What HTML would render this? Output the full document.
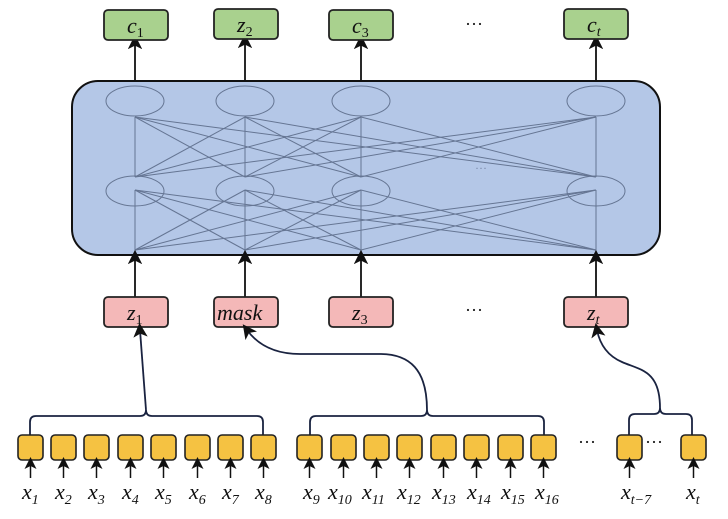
<!DOCTYPE html>
<html><head><meta charset="utf-8"><style>body{margin:0;background:#fff}svg{display:block}text{font-family:"Liberation Serif",serif;font-style:italic}</style></head><body>
<svg width="728" height="519" viewBox="0 0 728 519" xmlns="http://www.w3.org/2000/svg">
<defs><marker id="a" markerWidth="8" markerHeight="8" refX="4" refY="4" orient="auto"><path d="M0,0 L8,4 L0,8 L2,4 z" fill="#111"/></marker>
<marker id="b" markerWidth="6" markerHeight="6" refX="5" refY="3" orient="auto"><path d="M0,0 L6,3 L0,6 z" fill="#52607a"/></marker></defs>
<rect x="72" y="81" width="588" height="174" rx="26" fill="#b4c7e7" stroke="#111" stroke-width="2"/>
<g stroke="#5d6d8a" stroke-width="1" fill="none" opacity="0.9">
<g id="l1">
<line x1="135" y1="177" x2="135" y2="117"/><line x1="135" y1="177" x2="245" y2="117"/><line x1="135" y1="177" x2="361" y2="117"/><line x1="135" y1="177" x2="596" y2="117"/>
<line x1="245" y1="177" x2="135" y2="117"/><line x1="245" y1="177" x2="245" y2="117"/><line x1="245" y1="177" x2="361" y2="117"/><line x1="245" y1="177" x2="596" y2="117"/>
<line x1="361" y1="177" x2="135" y2="117"/><line x1="361" y1="177" x2="245" y2="117"/><line x1="361" y1="177" x2="361" y2="117"/><line x1="361" y1="177" x2="596" y2="117"/>
<line x1="596" y1="177" x2="135" y2="117"/><line x1="596" y1="177" x2="245" y2="117"/><line x1="596" y1="177" x2="361" y2="117"/><line x1="596" y1="177" x2="596" y2="117"/>
</g>
<use href="#l1" transform="translate(0,73)"/>
<ellipse cx="135" cy="101" rx="29" ry="15"/><ellipse cx="245" cy="101" rx="29" ry="15"/><ellipse cx="361" cy="101" rx="29" ry="15"/><ellipse cx="596" cy="101" rx="29" ry="15"/>
<ellipse cx="135" cy="191" rx="29" ry="15"/><ellipse cx="245" cy="191" rx="29" ry="15"/><ellipse cx="361" cy="191" rx="29" ry="15"/><ellipse cx="596" cy="191" rx="29" ry="15"/>
</g>
<text x="475" y="172" font-size="12" fill="#7a88a8" style="font-style:normal">···</text>
<g stroke="#111" stroke-width="1.8" fill="none">
<line x1="135" y1="81" x2="135" y2="42" marker-end="url(#a)"/><line x1="245" y1="81" x2="245" y2="41" marker-end="url(#a)"/><line x1="361" y1="81" x2="361" y2="42" marker-end="url(#a)"/><line x1="596" y1="81" x2="596" y2="42" marker-end="url(#a)"/>
<line x1="135" y1="297" x2="135" y2="257" marker-end="url(#a)"/><line x1="245" y1="297" x2="245" y2="257" marker-end="url(#a)"/><line x1="361" y1="297" x2="361" y2="257" marker-end="url(#a)"/><line x1="596" y1="297" x2="596" y2="257" marker-end="url(#a)"/>
</g>
<g stroke="#222" stroke-width="1.8" fill="#a9d18e">
<rect x="104" y="10" width="64" height="30" rx="4"/><rect x="214" y="9" width="64" height="30" rx="4"/><rect x="329" y="10" width="64" height="30" rx="4"/><rect x="564" y="9" width="64" height="30" rx="4"/>
</g>
<g stroke="#222" stroke-width="1.8" fill="#f4b8b8">
<rect x="104" y="297" width="64" height="30" rx="4"/><rect x="214" y="297" width="64" height="30" rx="4"/><rect x="329" y="297" width="64" height="30" rx="4"/><rect x="564" y="297" width="64" height="30" rx="4"/>
</g>
<g font-size="22" fill="#111">
<text x="127" y="33">c<tspan font-size="14" dy="4" style="font-style:normal">1</tspan></text>
<text x="237" y="32">z<tspan font-size="14" dy="4" style="font-style:normal">2</tspan></text>
<text x="352" y="33">c<tspan font-size="14" dy="4" style="font-style:normal">3</tspan></text>
<text x="587" y="32">c<tspan font-size="14" dy="4">t</tspan></text>
<text x="127" y="320">z<tspan font-size="14" dy="4" style="font-style:normal">1</tspan></text>
<text x="217" y="320">mask</text>
<text x="352" y="320">z<tspan font-size="14" dy="4" style="font-style:normal">3</tspan></text>
<text x="587" y="320">z<tspan font-size="14" dy="4">t</tspan></text>
<text x="465" y="30" style="font-style:normal" font-size="18">···</text>
<text x="465" y="316" style="font-style:normal" font-size="18">···</text>
<text x="578" y="448" style="font-style:normal" font-size="18">···</text>
<text x="645" y="448" style="font-style:normal" font-size="18">···</text>
</g>
<g stroke="#1a2340" stroke-width="1.8" fill="none">
<path d="M30,435 V422 q0,-6 6,-6 H140 q6,0 6,-6 q0,6 6,6 H257 q6,0 6,6 V435"/>
<path d="M146,410 L140,330" marker-end="url(#a)"/>
<path d="M310,435 V422 q0,-6 6,-6 H421 q6,0 6,-6 q0,6 6,6 H538 q6,0 6,6 V435"/>
<path d="M427,410 C427,370 410,354 380,354 H300 C275,354 258,345 247,330" marker-end="url(#a)"/>
<path d="M629,435 V420 q0,-6 6,-6 H654 q6,0 6,-6 q0,6 6,6 H686 q6,0 6,6 V435"/>
<path d="M660,408 C660,370 640,370 622,362 C608,356 600,345 597,330" marker-end="url(#a)"/>
</g>
<g stroke="#222" stroke-width="1.6" fill="#f5c242">
<rect x="18" y="435" width="25" height="25" rx="4"/><rect x="51" y="435" width="25" height="25" rx="4"/><rect x="84" y="435" width="25" height="25" rx="4"/><rect x="118" y="435" width="25" height="25" rx="4"/><rect x="151" y="435" width="25" height="25" rx="4"/><rect x="185" y="435" width="25" height="25" rx="4"/><rect x="218" y="435" width="25" height="25" rx="4"/><rect x="251" y="435" width="25" height="25" rx="4"/>
<rect x="297" y="435" width="25" height="25" rx="4"/><rect x="331" y="435" width="25" height="25" rx="4"/><rect x="364" y="435" width="25" height="25" rx="4"/><rect x="397" y="435" width="25" height="25" rx="4"/><rect x="431" y="435" width="25" height="25" rx="4"/><rect x="464" y="435" width="25" height="25" rx="4"/><rect x="498" y="435" width="25" height="25" rx="4"/><rect x="531" y="435" width="25" height="25" rx="4"/>
<rect x="617" y="435" width="25" height="25" rx="4"/><rect x="681" y="435" width="25" height="25" rx="4"/>
</g>
<g stroke="#111" stroke-width="1.5" marker-end="url(#a)">
<line x1="30.5" y1="478" x2="30.5" y2="463"/><line x1="63.5" y1="478" x2="63.5" y2="463"/><line x1="96.5" y1="478" x2="96.5" y2="463"/><line x1="130.5" y1="478" x2="130.5" y2="463"/><line x1="163.5" y1="478" x2="163.5" y2="463"/><line x1="197.5" y1="478" x2="197.5" y2="463"/><line x1="230.5" y1="478" x2="230.5" y2="463"/><line x1="263.5" y1="478" x2="263.5" y2="463"/>
<line x1="309.5" y1="478" x2="309.5" y2="463"/><line x1="343.5" y1="478" x2="343.5" y2="463"/><line x1="376.5" y1="478" x2="376.5" y2="463"/><line x1="409.5" y1="478" x2="409.5" y2="463"/><line x1="443.5" y1="478" x2="443.5" y2="463"/><line x1="476.5" y1="478" x2="476.5" y2="463"/><line x1="510.5" y1="478" x2="510.5" y2="463"/><line x1="543.5" y1="478" x2="543.5" y2="463"/>
<line x1="629.5" y1="478" x2="629.5" y2="463"/><line x1="693.5" y1="478" x2="693.5" y2="463"/>
</g>
<g font-size="22" fill="#111" style="font-style:normal">
<text x="22" y="499">x<tspan font-size="14" dy="5">1</tspan></text><text x="55" y="499">x<tspan font-size="14" dy="5">2</tspan></text><text x="88" y="499">x<tspan font-size="14" dy="5">3</tspan></text><text x="122" y="499">x<tspan font-size="14" dy="5">4</tspan></text><text x="155" y="499">x<tspan font-size="14" dy="5">5</tspan></text><text x="189" y="499">x<tspan font-size="14" dy="5">6</tspan></text><text x="222" y="499">x<tspan font-size="14" dy="5">7</tspan></text><text x="255" y="499">x<tspan font-size="14" dy="5">8</tspan></text>
<text x="303" y="499">x<tspan font-size="14" dy="5">9</tspan></text><text x="328" y="499">x<tspan font-size="14" dy="5">10</tspan></text><text x="362" y="499">x<tspan font-size="14" dy="5">11</tspan></text><text x="397" y="499">x<tspan font-size="14" dy="5">12</tspan></text><text x="432" y="499">x<tspan font-size="14" dy="5">13</tspan></text><text x="467" y="499">x<tspan font-size="14" dy="5">14</tspan></text><text x="501" y="499">x<tspan font-size="14" dy="5">15</tspan></text><text x="535" y="499">x<tspan font-size="14" dy="5">16</tspan></text>
<text x="621" y="499">x<tspan font-size="14" dy="5" style="font-style:italic">t</tspan><tspan font-size="14">−7</tspan></text><text x="686" y="499">x<tspan font-size="14" dy="5" style="font-style:italic">t</tspan></text>
</g>
</svg>
</body></html>
